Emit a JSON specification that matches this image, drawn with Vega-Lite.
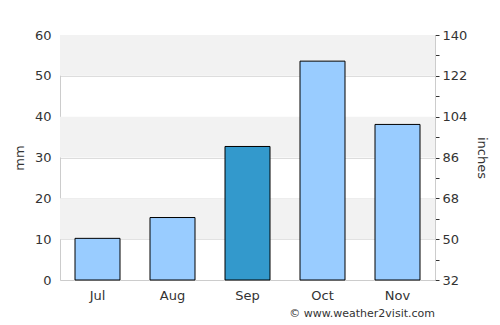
{
  "$schema": "https://vega.github.io/schema/vega-lite/v6.json",
  "width": 375,
  "height": 245,
  "autosize": {"type": "none"},
  "padding": {"left": 60, "top": 35, "right": 65, "bottom": 45},
  "background": "white",
  "config": {
    "view": {"stroke": null},
    "font": "DejaVu Sans",
    "axis": {"labelFont": "DejaVu Sans", "titleFont": "DejaVu Sans", "labelColor": "#333", "titleColor": "#333", "labelFontSize": 13, "titleFontSize": 13, "titleFontWeight": "normal"}
  },
  "title": {"text": "© www.weather2visit.com", "orient": "bottom", "anchor": "end", "frame": "group", "fontSize": 11, "fontWeight": "normal", "color": "#333", "offset": 6, "font": "DejaVu Sans"},
  "layer": [
    {
      "data": {"values": [{"lo": 50, "hi": 60}, {"lo": 30, "hi": 40}, {"lo": 10, "hi": 20}]},
      "mark": {"type": "rect", "color": "#f2f2f2"},
      "encoding": {
        "y": {"field": "lo", "type": "quantitative", "scale": {"domain": [0, 60], "nice": false},
          "axis": {"orient": "left", "title": "mm", "values": [0, 10, 20, 30, 40, 50, 60], "grid": true, "gridColor": "#dddddd", "ticks": false, "domainColor": "#cccccc", "labelPadding": 9, "titlePadding": 8}},
        "y2": {"field": "hi"}
      }
    },
    {
      "data": {"values": [
        {"month": "Jul", "mm": 10.2},
        {"month": "Aug", "mm": 15.3},
        {"month": "Sep", "mm": 32.7},
        {"month": "Oct", "mm": 53.6},
        {"month": "Nov", "mm": 38.1}
      ]},
      "mark": {"type": "bar", "stroke": "black", "strokeWidth": 1},
      "encoding": {
        "x": {"field": "month", "type": "nominal", "sort": null,
          "scale": {"paddingInner": 0.4, "paddingOuter": 0.2},
          "axis": {"title": null, "labelAngle": 0, "ticks": false, "domainColor": "#cccccc", "labelPadding": 9}},
        "y": {"field": "mm", "type": "quantitative", "scale": {"domain": [0, 60], "nice": false},
          "axis": {"orient": "right", "title": "inches", "values": [0, 5, 10, 15, 20, 25, 30, 35, 40, 45, 50, 55, 60],
            "labelExpr": "datum.value % 10 == 0 ? format(32 + datum.value * 1.8, 'd') : ''",
            "grid": false, "ticks": true, "tickSize": 4, "tickColor": "#333", "domainColor": "#cccccc", "labelPadding": 3, "titlePadding": 8}},
        "color": {"condition": {"test": "datum.month == 'Sep'", "value": "#3399cc"}, "value": "#99ccff"}
      }
    }
  ],
  "resolve": {"axis": {"y": "independent"}}
}
